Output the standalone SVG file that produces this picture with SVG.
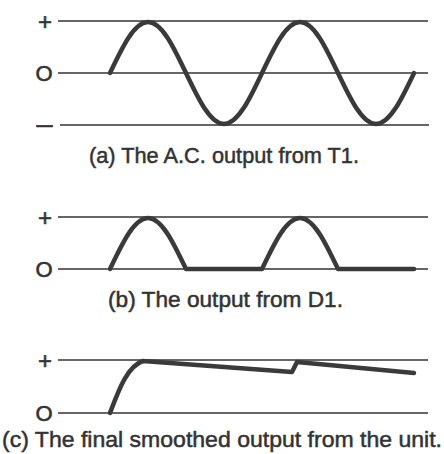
<svg xmlns="http://www.w3.org/2000/svg" width="444" height="454" viewBox="0 0 444 454">
<style>
.axis{stroke:#333;stroke-width:1.3;fill:none}
.wave{stroke:#3a3a3a;stroke-width:4.5;fill:none;stroke-linecap:round;stroke-linejoin:round}
.lbl{font-family:"Liberation Sans",Arial,sans-serif;font-size:24px;fill:#333;stroke:#333;stroke-width:0.6;text-anchor:middle}
.o{font-size:22px}
.cap{font-family:"Liberation Sans",Arial,sans-serif;font-size:22px;fill:#333;stroke:#333;stroke-width:0.5;text-anchor:middle}
</style>
<rect width="444" height="454" fill="#fff"/>
<g id="panel-a">
<line class="axis" x1="58" y1="21" x2="428" y2="21"/>
<line class="axis" x1="58" y1="73" x2="428" y2="73"/>
<line class="axis" x1="60" y1="125" x2="429" y2="125"/>
<text class="lbl" x="45" y="29.5">+</text>
<text class="lbl o" x="44" y="81">O</text>
<text class="lbl" x="44.5" y="131.6" textLength="16" lengthAdjust="spacingAndGlyphs">–</text>
<path class="wave" d="M110,73 C122.4,46.9 134.3,22 148,22 C161.8,22 173.6,46.9 186,73 C198.4,99.1 210.3,124 224,124 C237.8,124 249.6,99.1 262,73 C274.4,46.9 286.3,22 300,22 C313.8,22 325.6,46.9 338,73 C350.4,99.1 362.3,124 376,124 C389.8,124 401.6,99.1 414,73"/>
<text class="cap" x="224" y="163" textLength="270" lengthAdjust="spacingAndGlyphs">(a) The A.C. output from T1.</text>
</g>
<g id="panel-b">
<line class="axis" x1="58" y1="217" x2="428" y2="217"/>
<line class="axis" x1="58" y1="269" x2="428" y2="269"/>
<text class="lbl" x="45" y="225.5">+</text>
<text class="lbl o" x="44" y="277">O</text>
<path class="wave" d="M110,269 C122.4,242.9 134.3,218 148,218 C161.8,218 173.6,242.9 186,269 L262,269 C274.4,242.9 286.3,218 300,218 C313.8,218 325.6,242.9 338,269 L414,269"/>
<text class="cap" x="225.5" y="307" textLength="235" lengthAdjust="spacingAndGlyphs">(b) The output from D1.</text>
</g>
<g id="panel-c">
<line class="axis" x1="58" y1="360" x2="428" y2="360"/>
<line class="axis" x1="58" y1="413" x2="428" y2="413"/>
<text class="lbl" x="45" y="368.5">+</text>
<text class="lbl o" x="44" y="421">O</text>
<path class="wave" d="M110,413 C118,392 127,366 143,361 L292,372 L297,362 L414,373"/>
<text class="cap" x="222" y="447" textLength="440" lengthAdjust="spacingAndGlyphs">(c) The final smoothed output from the unit.</text>
</g>
</svg>
